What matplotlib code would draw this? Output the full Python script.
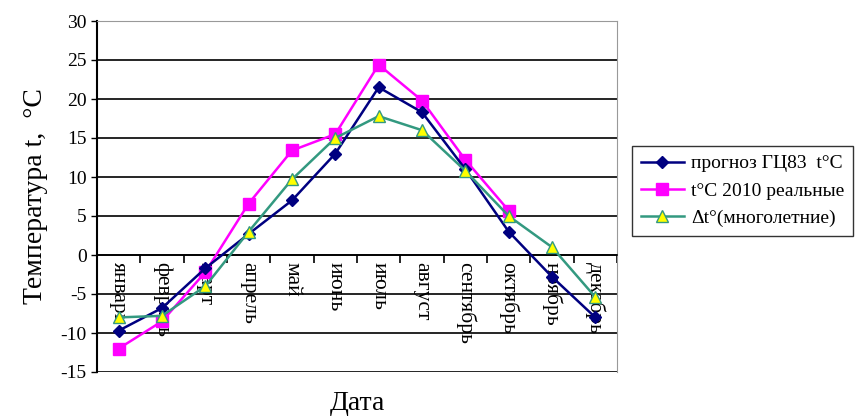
import matplotlib.pyplot as plt
import numpy as np

# data
months = ['январь', 'февраль', 'март', 'апрель', 'май', 'июнь',
          'июль', 'август', 'сентябрь', 'октябрь', 'ноябрь', 'декабрь']
forecast = [-9.7, -6.8, -1.7, 2.7, 7.0, 13.0, 21.5, 18.3, 11.0, 3.0, -2.8, -8.0]
real_2010 = [-12.0, -8.5, -2.2, 6.6, 13.4, 15.5, 24.4, 19.8, 12.2, 5.7, np.nan, np.nan]
longterm = [-8.0, -7.8, -4.0, 3.0, 9.7, 15.0, 17.8, 16.0, 10.8, 5.0, 1.0, -5.4]

plt.rcParams['font.family'] = ['Liberation Serif', 'DejaVu Serif']
plt.rcParams['axes.unicode_minus'] = False

fig = plt.figure(figsize=(8.56, 4.16), dpi=100)
ax = fig.add_axes([97/856, 1 - 372/416, 520/856, 351/416])

x = np.arange(len(months))
ax.plot(x, forecast, color='#000080', marker='D', markersize=6, lw=1.8,
        label='прогноз ГЦ83  t°C', zorder=4)
ax.plot(x, real_2010, color='#FF00FF', marker='s', markersize=8, lw=1.8,
        label='t°C 2010 реальные', zorder=3)
ax.plot(x, longterm, color='#339980', marker='^', markersize=8, lw=1.8,
        markerfacecolor='#FFFF00', markeredgecolor='#339980',
        label='Δt°(многолетние)', zorder=5)

ax.set_xlim(-0.5, 11.5)
ax.set_ylim(-15, 30)
ax.set_yticks(np.arange(-15, 31, 5))
ax.yaxis.grid(True, color='black', lw=1.2)
ax.set_axisbelow(True)
ax.tick_params(axis='y', labelsize=14, direction='out', length=4, width=1)

# x axis drawn along zero line
ax.spines['bottom'].set_position(('data', 0))
ax.spines['bottom'].set_linewidth(1.2)
ax.spines['left'].set_linewidth(1.5)
ax.spines['right'].set_color('#999999')
ax.spines['top'].set_color('#999999')
ax.set_xticks(np.arange(-0.5, 12, 1))
ax.set_xticklabels([])
ax.set_xticks(x, minor=True)
ax.set_xticklabels(months, minor=True, rotation=-90, fontsize=15.5, va='top')
ax.tick_params(axis='x', which='major', direction='out', length=6, width=1.2)
ax.tick_params(axis='x', which='minor', length=0, pad=5)

ax.set_ylabel('Температура t,  °C', fontsize=20, labelpad=9)
fig.text((97 + 617) / 2 / 856, 0.0, 'Дата', fontsize=20, ha='center', va='bottom')

fig.legend(loc='upper left', bbox_to_anchor=(632/856, 1 - 146/416),
           borderaxespad=0, fontsize=14, frameon=True, fancybox=False,
           edgecolor='black', borderpad=0.45, labelspacing=0.5,
           handlelength=2.2, handletextpad=0.4)

fig.savefig('out.png', dpi=100)
